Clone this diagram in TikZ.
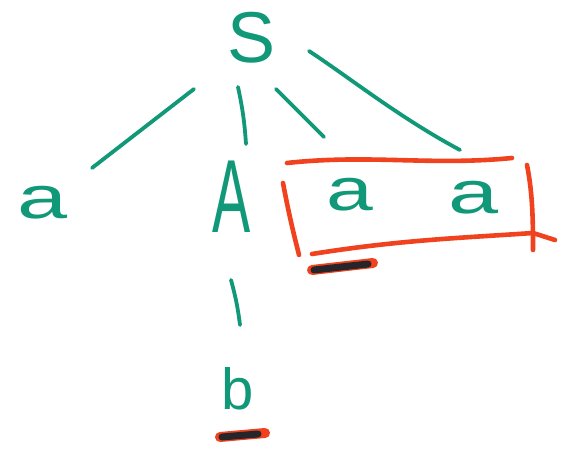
\documentclass[tikz,border=0pt]{standalone}
\usepackage{fontspec}
\setmainfont{Liberation Sans}
\usetikzlibrary{calc}
\definecolor{tealpen}{RGB}{16,152,120}
\definecolor{redpen}{RGB}{240,66,30}
\definecolor{inkblack}{RGB}{38,38,42}
\begin{document}
\begin{tikzpicture}[x=1pt,y=-1pt, line cap=round, line join=round,
  sym/.style={inner sep=0pt, text=tealpen},
  tree/.style={draw=tealpen, line width=3.8pt},
  boxline/.style={draw=redpen, line width=4.6pt},
  underred/.style={draw=redpen, line width=10pt},
  underblack/.style={draw=inkblack, line width=7pt}]
\fill[white] (0,0) rectangle (562,454);
\useasboundingbox (0,0) rectangle (562,454);
% symbols
\node[sym, font=\fontsize{72}{72}\selectfont] (S) at (252,38) {S};
\node[sym, font=\fontsize{60}{60}\selectfont] (a1) at (43,203) {\scalebox{1.5}[1]{a}};
\node[sym, font=\fontsize{104}{104}\selectfont] (A) at (232,197) {\scalebox{0.55}[1]{A}};
\node[sym, font=\fontsize{60}{60}\selectfont] (a2) at (350,195) {\scalebox{1.4}[1]{a}};
\node[sym, font=\fontsize{60}{60}\selectfont] (a3) at (474,198) {\scalebox{1.5}[1]{a}};
\node[sym, font=\fontsize{58}{58}\selectfont] (b) at (238,389) {b};
% tree edges
\draw[tree] ($(S.center)+(-58,51)$) -- ($(a1.center)+(49,-35)$);
\draw[tree] ($(S.center)+(-14,49)$) to[bend left=4] ($(A.center)+(14,-53)$);
\draw[tree] ($(S.center)+(24,51)$) -- ($(a2.center)+(-26,-58)$);
\draw[tree] ($(S.center)+(57,13)$) .. controls (350,78) and (400,118) .. ($(a3.center)+(-14,-48)$);
\draw[tree] ($(A.center)+(-1,83)$) to[bend left=4] ($(b.center)+(2,-64)$);
% red box round a a
\draw[boxline] (287,163) .. controls (370,154) and (430,166) .. (512,158);
\draw[boxline] (283,183) .. controls (289,215) and (294,235) .. (299,255);
\draw[boxline] (527,165) .. controls (533,195) and (533,225) .. (533,250);
\draw[boxline] (312,254) .. controls (400,240) and (460,238) .. (533,233) -- (555,240);
% underlines
\draw[underred] (312,270) -- (373,263);
\draw[underblack] (314,270) -- (368,264);
\draw[underred] (220,437) -- (265,433);
\draw[underblack] (222,437) -- (258,434);
\end{tikzpicture}
\end{document}
